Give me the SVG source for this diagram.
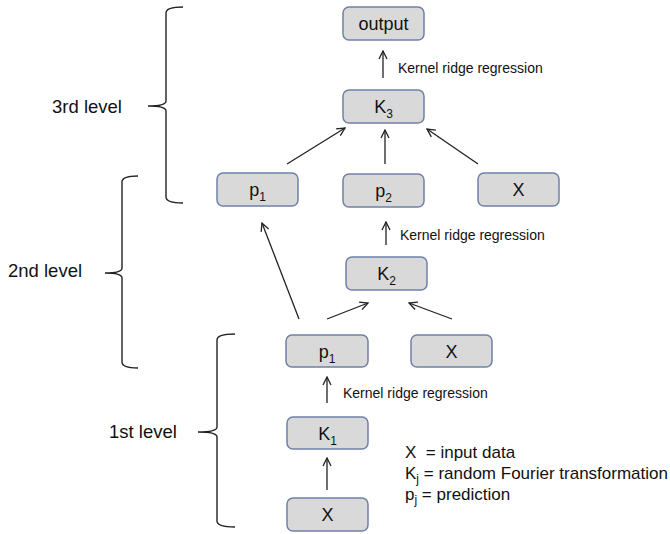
<svg xmlns="http://www.w3.org/2000/svg" width="670" height="534" viewBox="0 0 670 534">
<style>
.box{fill:#d9d9d9;stroke:#7081a8;stroke-width:1.5}
.lbl{font-family:"Liberation Sans",Arial,sans-serif;font-size:18px;fill:#111;text-anchor:middle}
.sub{font-size:12px}
.note{font-family:"Liberation Sans",Arial,sans-serif;font-size:14px;fill:#111}
.lev{font-family:"Liberation Sans",Arial,sans-serif;font-size:18.5px;fill:#111}
.leg{font-family:"Liberation Sans",Arial,sans-serif;font-size:17px;fill:#111;white-space:pre}
.arr{stroke:#222;stroke-width:1.3;fill:none;marker-end:url(#ah)}
.br{stroke:#222;stroke-width:1.4;fill:none}
</style>
<defs>
<marker id="ah" viewBox="0 0 10 10" refX="9" refY="5" markerWidth="10" markerHeight="10" markerUnits="userSpaceOnUse" orient="auto">
<path d="M1,1 L9,5 L1,9" fill="none" stroke="#222" stroke-width="1.3"/>
</marker>
</defs>
<g id="braces">
<path class="br" d="M183,7 Q166,7 166,13 L166,101 Q166,106 148,106 Q166,106 166,111 L166,197 Q166,203 183,203"/>
<path class="br" d="M138,176 Q122,176 122,182 L122,268 Q122,273 105,273 Q122,273 122,278 L122,362 Q122,368 138,368"/>
<path class="br" d="M235,334 Q217,334 217,340 L217,427 Q217,432 198,432 Q217,432 217,437 L217,521 Q217,527 235,527"/>
</g>
<g id="level-labels">
<text class="lev" x="52" y="113">3rd level</text>
<text class="lev" x="8" y="277">2nd level</text>
<text class="lev" x="109" y="438">1st level</text>
</g>
<g id="connectors">
<line class="arr" x1="383" y1="78" x2="383" y2="51"/>
<line class="arr" x1="287" y1="164" x2="345" y2="128"/>
<line class="arr" x1="385" y1="164" x2="385" y2="130"/>
<line class="arr" x1="478" y1="164" x2="427" y2="129"/>
<line class="arr" x1="386" y1="245" x2="386" y2="222"/>
<line class="arr" x1="299" y1="319" x2="262" y2="223"/>
<line class="arr" x1="327" y1="319" x2="368" y2="303"/>
<line class="arr" x1="452" y1="319" x2="409" y2="303"/>
<line class="arr" x1="327" y1="403" x2="327" y2="377"/>
<line class="arr" x1="327" y1="490" x2="327" y2="458"/>
<text class="note" x="398" y="73">Kernel ridge regression</text>
<text class="note" x="400" y="240">Kernel ridge regression</text>
<text class="note" x="343" y="398">Kernel ridge regression</text>
</g>
<g id="output"><rect class="box" x="343" y="7" width="81" height="33" rx="6"/><text class="lbl" x="383.5" y="30">output</text></g>
<g id="K3"><rect class="box" x="343" y="90" width="81" height="33" rx="6"/><text class="lbl" x="383.5" y="113">K<tspan class="sub" dy="5">3</tspan></text></g>
<g id="p1-top"><rect class="box" x="217" y="173" width="81" height="33" rx="6"/><text class="lbl" x="257.5" y="196">p<tspan class="sub" dy="5">1</tspan></text></g>
<g id="p2"><rect class="box" x="343" y="174" width="81" height="33" rx="6"/><text class="lbl" x="383.5" y="197">p<tspan class="sub" dy="5">2</tspan></text></g>
<g id="X-top"><rect class="box" x="478" y="173" width="81" height="33" rx="6"/><text class="lbl" x="518.5" y="196">X</text></g>
<g id="K2"><rect class="box" x="346" y="257" width="81" height="33" rx="6"/><text class="lbl" x="386.5" y="280">K<tspan class="sub" dy="5">2</tspan></text></g>
<g id="p1-mid"><rect class="box" x="286" y="335" width="82" height="32" rx="6"/><text class="lbl" x="327" y="358">p<tspan class="sub" dy="5">1</tspan></text></g>
<g id="X-mid"><rect class="box" x="411" y="335" width="81" height="32" rx="6"/><text class="lbl" x="451.5" y="358">X</text></g>
<g id="K1"><rect class="box" x="287" y="417" width="81" height="32" rx="6"/><text class="lbl" x="327.5" y="440">K<tspan class="sub" dy="5">1</tspan></text></g>
<g id="X-bot"><rect class="box" x="287" y="498" width="81" height="33" rx="6"/><text class="lbl" x="327.5" y="521">X</text></g>
<g id="legend">
<text class="leg" x="405" y="458" xml:space="preserve">X  = input data</text>
<text class="leg" x="405" y="479">K<tspan class="sub" dy="4">j</tspan><tspan dy="-4"> = random Fourier transformation</tspan></text>
<text class="leg" x="405" y="500">p<tspan class="sub" dy="4">j</tspan><tspan dy="-4"> = prediction</tspan></text>
</g>
</svg>
